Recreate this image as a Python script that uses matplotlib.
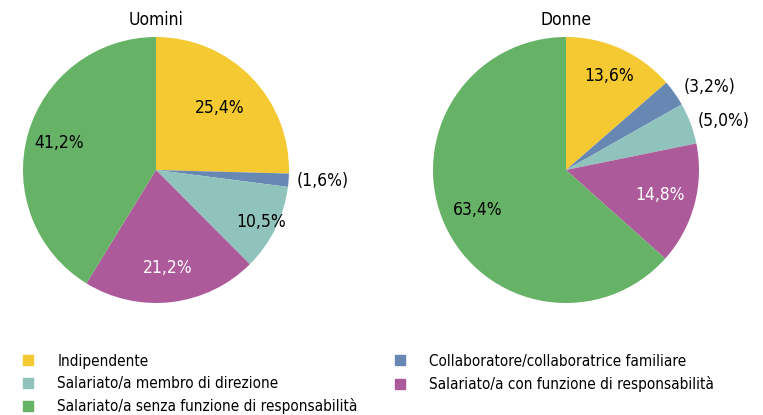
import matplotlib
matplotlib.use("Agg")
import matplotlib.pyplot as plt
from matplotlib.lines import Line2D
import numpy as np

plt.rcParams['font.family'] = ['DejaVu Sans']
plt.rcParams['font.stretch'] = 'condensed'

categories = ["Indipendente",
              "Collaboratore/collaboratrice familiare",
              "Salariato/a membro di direzione",
              "Salariato/a con funzione di responsabilità",
              "Salariato/a senza funzione di responsabilità"]
uomini = [25.4, 1.6, 10.5, 21.2, 41.2]
donne = [13.6, 3.2, 5.0, 14.8, 63.4]
titles = ["Uomini", "Donne"]
colors = ["#F5C932", "#6888B4", "#8FC3BC", "#AD5A9A", "#66B266"]

label_r = {
    "Uomini": [0.67, 1.06, 0.88, 0.74, 0.76],
    "Donne": [0.78, 1.08, 1.055, 0.73, 0.73],
}
outside = {
    "Uomini": [False, True, False, False, False],
    "Donne": [False, True, True, False, False],
}
txt_colors = ["black", "black", "black", "white", "black"]
FS = 12.5
FS_LEG = 11

def fmt(v):
    return f"{v:.1f}".replace(".", ",") + "%"

fig = plt.figure(figsize=(7.63, 4.15), dpi=100)
W, H = 763, 415
R = 133
centers = [(156, 170), (566, 170)]

for (cx, cy), title, vals in zip(centers, titles, [uomini, donne]):
    ax = fig.add_axes([(cx - R) / W, (H - cy - R) / H, 2 * R / W, 2 * R / H])
    wedges, _ = ax.pie(vals, colors=colors, startangle=90, counterclock=False,
                       radius=1.0, wedgeprops=dict(linewidth=0))
    ax.set_xlim(-1, 1)
    ax.set_ylim(-1, 1)
    ax.set_aspect("equal")
    ax.axis("off")
    for i, (w, v) in enumerate(zip(wedges, vals)):
        ang = np.deg2rad((w.theta1 + w.theta2) / 2)
        r = label_r[title][i]
        x, y = r * np.cos(ang), r * np.sin(ang)
        if outside[title][i]:
            ax.text(x, y, "(" + fmt(v) + ")", ha="left", va="center",
                    fontsize=FS, color="black", clip_on=False)
        else:
            ax.text(x, y, fmt(v), ha="center", va="center",
                    fontsize=FS, color=txt_colors[i])
    ax.text(0, 1.06, title, ha="center", va="bottom", fontsize=FS,
            clip_on=False)

def make_handles(idx):
    return [Line2D([0], [0], marker="s", linestyle="none", markersize=7.5,
                   markerfacecolor=colors[i], markeredgecolor=colors[i]) for i in idx]

col1 = [0, 2, 4]
col2 = [1, 3]
kw = dict(loc="upper left", frameon=False, fontsize=FS_LEG, handlelength=1.0,
          handletextpad=1.4, labelspacing=0.48, borderaxespad=0, borderpad=0)
leg1 = fig.legend(make_handles(col1), [categories[i] for i in col1],
                  bbox_to_anchor=(0.027, 0.148), **kw)
leg2 = fig.legend(make_handles(col2), [categories[i] for i in col2],
                  bbox_to_anchor=(0.514, 0.148), **kw)

fig.savefig("out.png", dpi=100)
